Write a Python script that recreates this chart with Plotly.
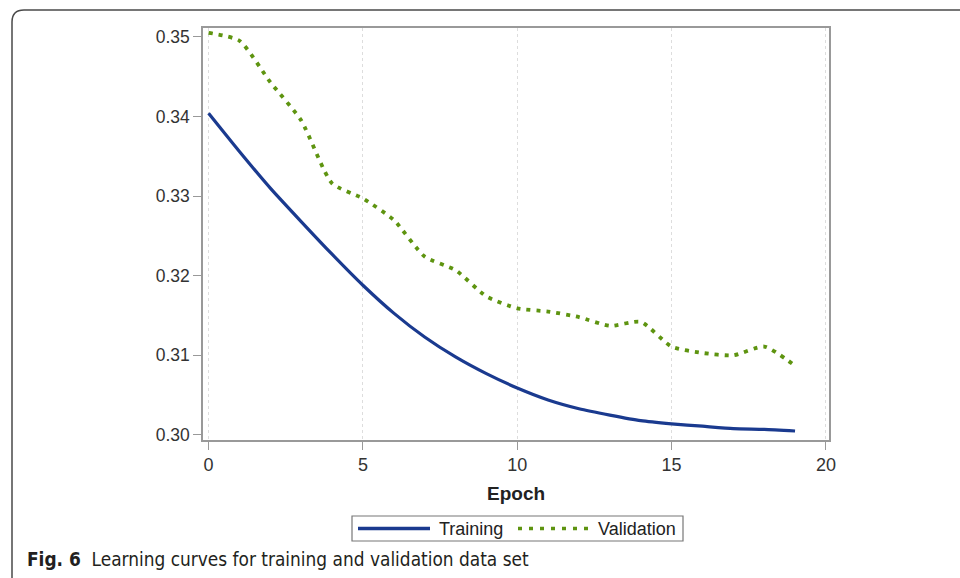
import plotly.graph_objects as go

epochs = list(range(20))
training = [0.3404, 0.3356, 0.3310, 0.3268, 0.3227, 0.3188, 0.3153, 0.3123, 0.3098, 0.3077,
            0.3059, 0.3044, 0.3033, 0.3025, 0.3018, 0.3014, 0.3011, 0.3008, 0.3007, 0.3005]
validation = [0.3505, 0.3495, 0.3443, 0.3395, 0.3316, 0.3297, 0.3270, 0.3224, 0.3207, 0.3174,
              0.3159, 0.3155, 0.3148, 0.3137, 0.3142, 0.3111, 0.3103, 0.3100, 0.3111, 0.3087]
x_ticks = [0, 5, 10, 15, 20]
y_ticks = [0.30, 0.31, 0.32, 0.33, 0.34, 0.35]
y_tick_labels = ["0.30", "0.31", "0.32", "0.33", "0.34", "0.35"]
series_names = ["Training", "Validation"]
series_colors = ["#1a3a8f", "#5e9410"]

W, H = 960, 578
L, R, T, B = 203, 829, 28, 440

def px(x):
    return (x - L) / (R - L)

def py(y):
    return (B - y) / (B - T)

fig = go.Figure()
fig.add_trace(go.Scatter(x=epochs, y=training, mode="lines", name=series_names[0],
                         showlegend=False,
                         line=dict(color=series_colors[0], width=3.2, shape="spline", smoothing=0.6)))
fig.add_trace(go.Scatter(x=epochs, y=validation, mode="lines", name=series_names[1],
                         showlegend=False,
                         line=dict(color=series_colors[1], width=3.8, dash="4px,6px",
                                   shape="spline", smoothing=0.6)))

frame_path = (f"M {px(12)},{py(600)} L {px(12)},{py(22)} "
              f"Q {px(12)},{py(10)} {px(24)},{py(10)} L {px(980)},{py(10)}")

shapes = [
    dict(type="path", xref="paper", yref="paper", path=frame_path,
         line=dict(color="#4a4a4a", width=1.5), layer="above"),
    # legend box
    dict(type="rect", xref="paper", yref="paper", x0=px(352), x1=px(683), y0=py(516), y1=py(541),
         line=dict(color="#777777", width=1.2), fillcolor="white"),
    dict(type="line", xref="paper", yref="paper", x0=px(358), x1=px(430), y0=py(528.5), y1=py(528.5),
         line=dict(color=series_colors[0], width=3.6)),
    dict(type="line", xref="paper", yref="paper", x0=px(518), x1=px(590), y0=py(528.5), y1=py(528.5),
         line=dict(color=series_colors[1], width=3.6, dash="4px,7px")),
]

fig.update_layout(
    width=W, height=H,
    margin=dict(l=L, r=W - R, t=T, b=H - B),
    paper_bgcolor="white", plot_bgcolor="white",
    font=dict(family="Liberation Sans, Arial, sans-serif", color="#333333", size=16),
    showlegend=False,
    shapes=shapes,
    annotations=[
        dict(xref="paper", yref="paper", x=px(25), y=py(559), xanchor="left", yanchor="middle",
             showarrow=False,
             text="<b>Fig. 6</b>  Learning curves for training and validation data set",
             font=dict(family="Liberation Sans Narrow, DejaVu Sans Condensed, sans-serif",
                       size=18.9, color="#231f20")),
        dict(xref="paper", yref="paper", x=px(516), y=py(493), xanchor="center", yanchor="middle",
             showarrow=False, text="<b>Epoch</b>",
             font=dict(family="Liberation Sans, Arial, sans-serif", size=19, color="#222222")),
        dict(xref="paper", yref="paper", x=px(437), y=py(528.5), xanchor="left", yanchor="middle",
             showarrow=False, text=series_names[0],
             font=dict(family="Liberation Sans, Arial, sans-serif", size=18, color="#222222")),
        dict(xref="paper", yref="paper", x=px(596), y=py(528.5), xanchor="left", yanchor="middle",
             showarrow=False, text=series_names[1],
             font=dict(family="Liberation Sans, Arial, sans-serif", size=18, color="#222222")),
    ],
)

fig.update_xaxes(range=[-0.18, 20.1], tickvals=x_ticks, ticktext=[str(v) for v in x_ticks],
                 showline=True, linecolor="#999999", linewidth=1.5, mirror=True,
                 ticks="outside", ticklen=8, tickcolor="#999999",
                 showgrid=True, gridcolor="#dddddd", griddash="dot", gridwidth=1,
                 zeroline=False, tickfont=dict(size=18, color="#333333"))
fig.update_yaxes(range=[0.29937, 0.3511], tickvals=y_ticks, ticktext=y_tick_labels,
                 showline=True, linecolor="#999999", linewidth=1.5, mirror=True,
                 ticks="outside", ticklen=8, tickcolor="#999999",
                 showgrid=False, zeroline=False, tickfont=dict(size=17.5, color="#333333"))

fig.write_html("out.html")
